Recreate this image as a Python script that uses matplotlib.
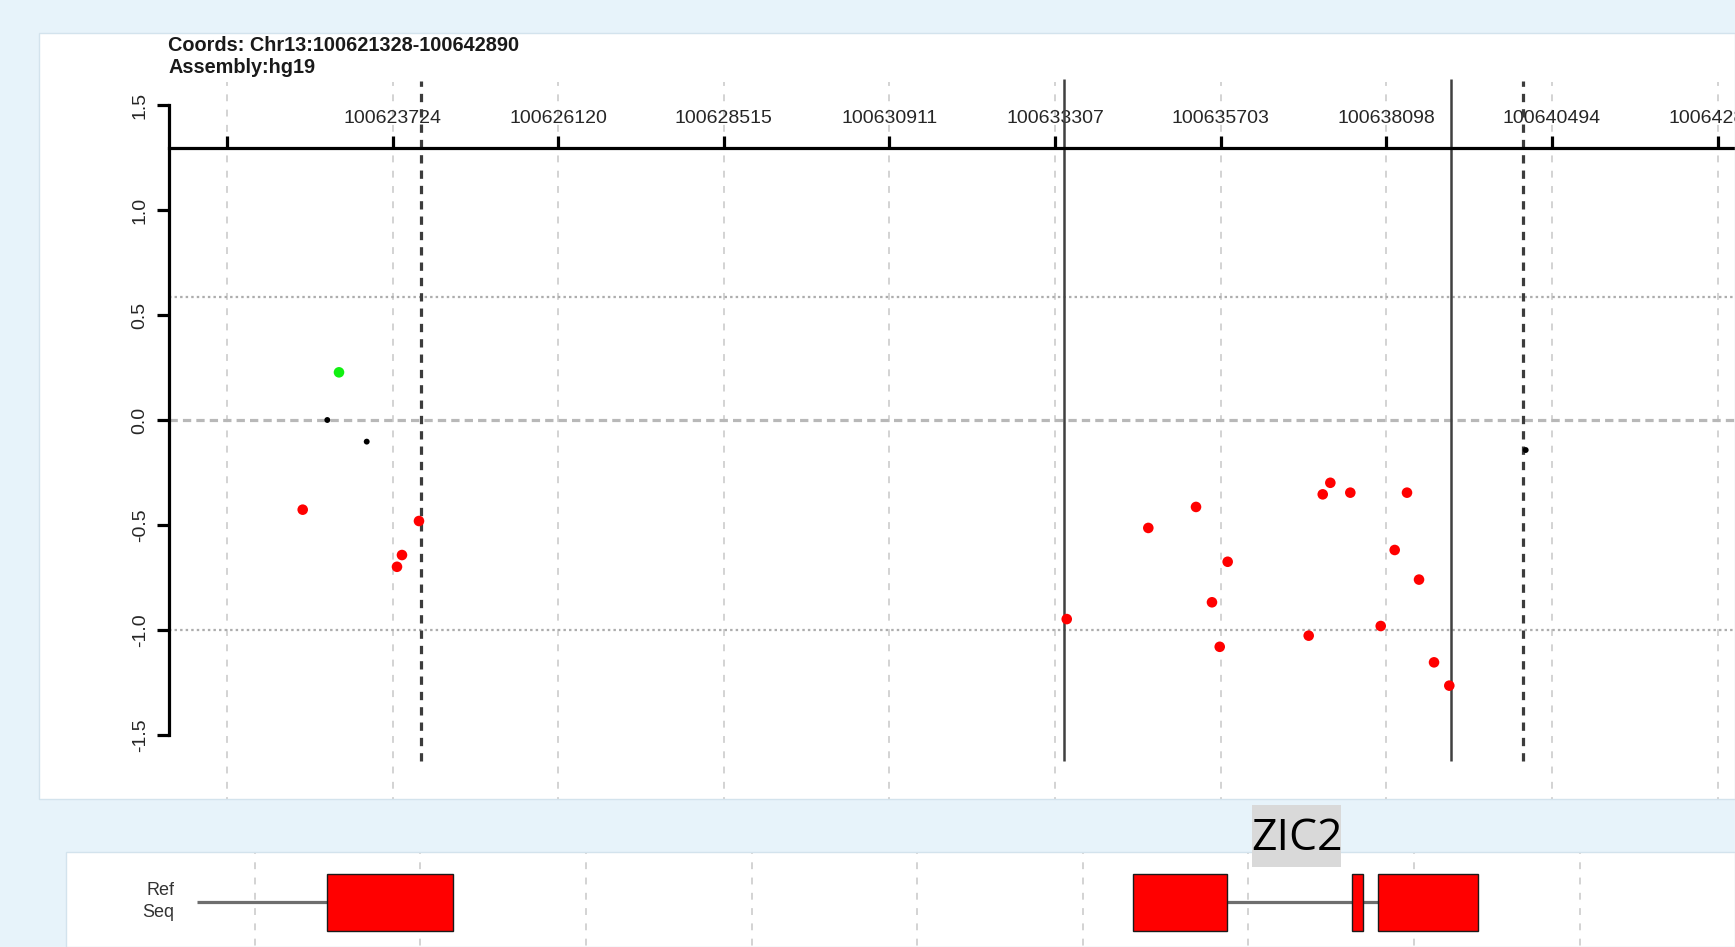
import matplotlib
matplotlib.use("Agg")
import matplotlib.pyplot as plt
from matplotlib.patches import Rectangle

plt.rcParams['font.family'] = ['Liberation Sans', 'DejaVu Sans']

# ---------------------------------------------------------------- data
region_start, region_end = 100621328, 100642890

tick_pos = [100621328, 100623724, 100626120, 100628515, 100630911,
            100633307, 100635703, 100638098, 100640494, 100642890]
tick_labels = ["", "100623724", "100626120", "100628515", "100630911",
               "100633307", "100635703", "100638098", "100640494", "100642890"]

y_ticks = [-1.5, -1.0, -0.5, 0.0, 0.5, 1.0, 1.5]
y_tick_labels = ["-1.5", "-1.0", "-0.5", "0.0", "0.5", "1.0", "1.5"]

# hypomethylated CpGs (red)
hypo_pos = [100622423, 100623787, 100623859, 100624105, 100633475,
            100634655, 100635345, 100635576, 100635688, 100635803,
            100636975, 100637178, 100637288, 100637577, 100638017,
            100638219, 100638397, 100638571, 100638788, 100639009]
hypo_val = [-0.427, -0.699, -0.643, -0.481, -0.948,
            -0.514, -0.414, -0.868, -1.080, -0.675,
            -1.027, -0.354, -0.299, -0.346, -0.981,
            -0.619, -0.346, -0.760, -1.154, -1.265]
# hypermethylated CpGs (green)
hyper_pos = [100622948]
hyper_val = [0.227]
# non-significant CpGs (black)
ns_pos = [100622779, 100623349, 100640114]
ns_val = [0.0, -0.103, -0.143]

# thresholds: log2(1.5) and log2(0.5)
thresholds = [0.585, -1.0]

# region boundaries
dashed_bounds = [100624134, 100640079]
solid_bounds = [100633440, 100639033]

# RefSeq gene models (exons), clipped to the view
genes = {
    "ZIC5": {"start": 100615276, "end": 100624193,
             "exons": [(100622381, 100624193)]},
    "ZIC2": {"start": 100634026, "end": 100639019,
             "exons": [(100634026, 100635391), (100637205, 100637363),
                       (100637571, 100639019)]},
}

# ---------------------------------------------------------------- layout
W, H = 1735, 947
fig = plt.figure(figsize=(W / 100, H / 100), dpi=100)
fig.patch.set_facecolor('#e7f3fa')


def px_box(x0, y0, x1, y1):
    return [x0 / W, 1 - y1 / H, (x1 - x0) / W, (y1 - y0) / H]


PX_PER_BP = 0.069131
TICK0_PX = 227.0          # pixel x of region_start in the top panel
TOP = (38.7, 33.2, 1735, 799)
SHIFT = 27.7              # gene track panel is offset to the right
BOT = (66.4, 852, 1735, 947)
Y0_PX, Y_UNIT = 420.0, 210.0


def bp_at(px, offset=0.0):
    return region_start + (px - offset - TICK0_PX) / PX_PER_BP


def val_at(py):
    return (Y0_PX - py) / Y_UNIT


grid_kw = dict(color='#c8c8c8', lw=1.1, linestyle=(0, (4.5, 5.5)), zorder=1)

# ---------------------------------------------------------------- top panel
ax = fig.add_axes(px_box(*TOP))
ax.set_facecolor('white')
xl, xr = bp_at(TOP[0]), bp_at(TOP[2])
ax.set_xlim(xl, xr)
ax.set_ylim(val_at(TOP[3]), val_at(TOP[1]))
axis_x = bp_at(169)
axis_y = val_at(148)

ax.vlines(tick_pos, val_at(TOP[3] + 5), val_at(82), **grid_kw)
ax.hlines(0.0, axis_x, xr, color='#b8b8b8', lw=2.3,
          linestyle=(0, (2.6, 1.6)), zorder=1)
ax.hlines(thresholds, axis_x, xr, color='#adadad', lw=1.6,
          linestyle=(0, (1.1, 1.4)), zorder=1)

ax.vlines(dashed_bounds, val_at(761), val_at(81), color='#3c3c3c', lw=2.3,
          linestyle=(0, (2.6, 2.2)), zorder=2)
ax.vlines(solid_bounds, val_at(761), val_at(79), color='#404040', lw=1.8,
          zorder=2)

ax.scatter(hypo_pos, hypo_val, s=58, color='#ff0000', edgecolors='none', zorder=4)
ax.scatter(hyper_pos, hyper_val, s=58, color='#11f011', edgecolors='none', zorder=4)
ax.scatter(ns_pos, ns_val, s=18, color='black', edgecolors='none', zorder=4)

for side in ('right', 'bottom'):
    ax.spines[side].set_visible(False)
ax.spines['left'].set_position(('data', axis_x))
ax.spines['left'].set_bounds(-1.5, 1.5)
ax.spines['top'].set_position(('data', axis_y))
ax.spines['top'].set_bounds(axis_x, xr)
for side in ('left', 'top'):
    ax.spines[side].set_linewidth(2.3)
    ax.spines[side].set_color('black')

ax.xaxis.set_ticks_position('top')
ax.set_xticks(tick_pos)
ax.set_xticklabels(tick_labels)
ax.set_yticks(y_ticks)
ax.set_yticklabels(y_tick_labels, rotation=90, va='center')
ax.tick_params(axis='x', direction='out', length=8.6, width=2.3, pad=6.5,
               labelsize=14, labelcolor='#262626')
ax.tick_params(axis='y', direction='out', length=8.6, width=2.3, pad=6,
               labelsize=14, labelcolor='#262626')

fig.text(168 / W, 1 - 50.7 / H, "Coords: Chr13:%d-%d" % (region_start, region_end),
         fontsize=14.3, fontweight='bold', color='#1a1a1a', va='baseline')
fig.text(168 / W, 1 - 73.3 / H, "Assembly:hg19",
         fontsize=14.3, fontweight='bold', color='#1a1a1a', va='baseline')

# ---------------------------------------------------------------- gene track
ax2 = fig.add_axes(px_box(*BOT))
ax2.set_facecolor('white')
gl = bp_at(BOT[0], SHIFT)
gr = bp_at(BOT[2], SHIFT)
ax2.set_xlim(gl, gr)
ax2.set_ylim(BOT[3], BOT[1])
ax2.set_xticks([])
ax2.set_yticks([])
for sp in ax2.spines.values():
    sp.set_visible(False)

ax2.vlines(tick_pos, BOT[1] - 5, BOT[3] + 5, **grid_kw)
track_left = bp_at(197, SHIFT)
for name, g in genes.items():
    x0 = max(g["start"], track_left)
    ax2.hlines(902.3, x0, g["end"], color='#6e6e6e', lw=2.3, zorder=2)
    for s, e in g["exons"]:
        ax2.add_patch(Rectangle((s, 874), e - s, 56.7, facecolor='#ff0000',
                                edgecolor='#1a1a1a', lw=1.0, zorder=3))

fig.text(174 / W, 1 - 890 / H, "Ref", fontsize=13, color='#333333',
         ha='right', va='center')
fig.text(174 / W, 1 - 912 / H, "Seq", fontsize=13, color='#333333',
         ha='right', va='center')

# panel borders
for box in (TOP, BOT):
    fig.add_artist(Rectangle((box[0] / W, 1 - box[3] / H),
                             (box[2] - box[0]) / W, (box[3] - box[1]) / H,
                             transform=fig.transFigure, fill=False,
                             edgecolor='#d3e3ed', lw=1.0, zorder=5))

# gene name tag
fig.add_artist(Rectangle((1252.3 / W, 1 - 866.7 / H), 88.4 / W, 61.7 / H,
                         transform=fig.transFigure, facecolor='#d9d9d9',
                         edgecolor='none', zorder=6))
fig.text(1296.5 / W, 1 - 838.5 / H, "ZIC2", fontsize=32, color='black',
         family=['Open Sans', 'DejaVu Sans'], ha='center', va='center',
         zorder=7)

fig.savefig("out.png", dpi=100, facecolor=fig.get_facecolor())
